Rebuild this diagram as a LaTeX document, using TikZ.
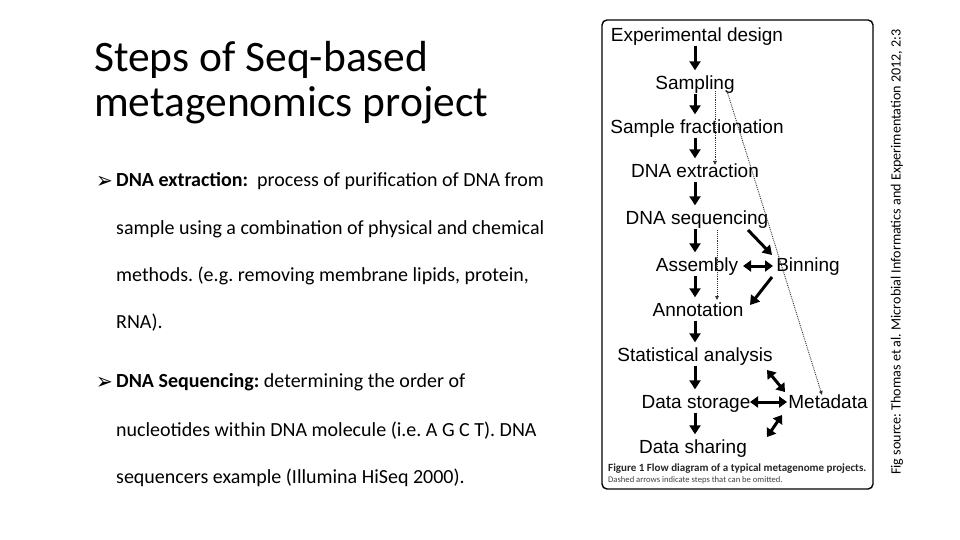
\documentclass[tikz,border=0pt]{standalone}
\usepackage{fontspec}
\setmainfont{Carlito}
\newfontfamily\figfont{Liberation Sans}
\newfontfamily\symfont{DejaVu Sans}
\usetikzlibrary{arrows.meta}
\frenchspacing
\tikzset{
	stage/.style     = {font=\figfont\fontsize{19}{22}\selectfont, inner sep=1pt,
		text height=16pt, text depth=3pt},
	body/.style      = {anchor=base west, inner sep=0pt, font=\fontsize{20}{24}\selectfont},
	bullet/.style    = {anchor=base west, inner sep=0pt, font=\symfont\fontsize{20}{24}\selectfont},
	flow/.style      = {line width=3pt, -{Triangle[width=11pt,length=9pt]}, shorten >=2pt},
	one/.style       = {line width=3pt, -{Triangle[width=11pt,length=9pt]}},
	both/.style      = {line width=3pt, {Triangle[width=11pt,length=8pt]}-{Triangle[width=11pt,length=8pt]}},
	omit/.style      = {densely dotted, line width=0.9pt, black!80, -{Triangle[width=3.5pt,length=4pt]}}
}

\begin{document}
\begin{tikzpicture}[x=1pt, y=-1pt]
	\useasboundingbox (0,0) rectangle (960,540);
	
	% title and text
	\node[anchor=base west, inner sep=0pt, font=\fontsize{43.5}{48}\selectfont] (title1) at (94,72) {Steps of Seq-based};
	\node[anchor=base west, inner sep=0pt, font=\fontsize{43.5}{48}\selectfont] (title2) at (94,117) {metagenomics project};
	
	\node[bullet] (bu1) at (96,188) {\scalebox{1}[1.15]{➢}};
	\node[body] (b1) at (116,186) {\textbf{DNA extraction:}\ \ process of purification of DNA from};
	\node[body] (l1) at (116,234) {sample using a combination of physical and chemical};
	\node[body] (l2) at (116,281) {methods. (e.g. removing membrane lipids, protein,};
	\node[body] (l3) at (116,328) {RNA).};
	\node[bullet] (bu2) at (96,389) {\scalebox{1}[1.15]{➢}};
	\node[body] (b2) at (116,387) {\textbf{DNA Sequencing:} determining the order of};
	\node[body] (l4) at (116,436) {nucleotides within DNA molecule (i.e. A G C T). DNA};
	\node[body] (l5) at (116,483) {sequencers example (Illumina HiSeq 2000).};
	
	\node[rotate=90, font=\fontsize{14.1}{16}\selectfont] (src) at (897,252)
		{Fig source: Thomas et al. Microbial Informatics and Experimentation 2012, 2:3};
	
	% figure
	\draw[line width=1.4pt, rounded corners=5pt] (602,20) rectangle (873,489);
	\draw
	node at (697,35)  [stage] (exp)  {Experimental design}
	node at (695,83)  [stage] (samp) {Sampling}
	node at (697,127) [stage] (frac) {Sample fractionation}
	node at (695,171) [stage] (ext)  {DNA extraction}
	node at (697,218) [stage] (seq)  {DNA sequencing}
	node at (697,265) [stage] (asm)  {Assembly}
	node at (808,265) [stage] (bin)  {Binning}
	node at (698,310) [stage] (ann)  {Annotation}
	node at (695,355) [stage] (stat) {Statistical analysis}
	node at (696,402) [stage] (stor) {Data storage}
	node at (828,402) [stage] (meta) {Metadata}
	node at (693,447) [stage] (shar) {Data sharing};
	
	\coordinate (col) at (695,0);
	\draw[flow] (exp.south -| col)  -- (samp.north -| col);
	\draw[flow] (samp.south -| col) -- (frac.north -| col);
	\draw[flow] (frac.south -| col) -- (ext.north -| col);
	\draw[flow] (ext.south -| col)  -- (seq.north -| col);
	\draw[flow] (seq.south -| col)  -- (asm.north -| col);
	\draw[flow] (asm.south -| col)  -- (ann.north -| col);
	\draw[flow] (ann.south -| col)  -- (stat.north -| col);
	\draw[flow] (stat.south -| col) -- (stor.north -| col);
	\draw[flow] (stor.south -| col) -- (shar.north -| col);
	
	\draw[one]  ([shift={(51,12)}]seq.center)  -- ([shift={(-36,-10)}]bin.center);
	\draw[both] ([shift={(46,1)}]asm.center)   -- ([shift={(-35,1)}]bin.center);
	\draw[one]  ([shift={(-36,12)}]bin.center) -- ([shift={(52,-5)}]ann.center);
	\draw[both] ([shift={(72,15)}]stat.center) -- ([shift={(-43,-10)}]meta.center);
	\draw[both] ([shift={(54,0)}]stor.center)  -- ([shift={(-41,0)}]meta.center);
	\draw[both] ([shift={(-46,13)}]meta.center) -- ([shift={(74,-10)}]shar.center);
	
	% dotted = can be omitted
	\draw[omit] ([shift={(20,8)}]samp.center) -- ([shift={(20,-6)}]ext.center);
	\draw[omit] ([shift={(32,8)}]samp.center) -- ([shift={(-6,-7)}]meta.center);
	\draw[omit] ([shift={(20,12)}]seq.center)  -- ([shift={(19,-10)}]ann.center);
	
	\node[anchor=base west, inner sep=0pt, font=\bfseries\fontsize{11}{12}\selectfont, black!85] (cap1) at (608,471)
		{Figure 1 Flow diagram of a typical metagenome projects.};
	\node[anchor=base west, inner sep=0pt, font=\fontsize{8.6}{10}\selectfont, black!75] (cap2) at (608,482)
		{Dashed arrows indicate steps that can be omitted.};
\end{tikzpicture}
\end{document}
